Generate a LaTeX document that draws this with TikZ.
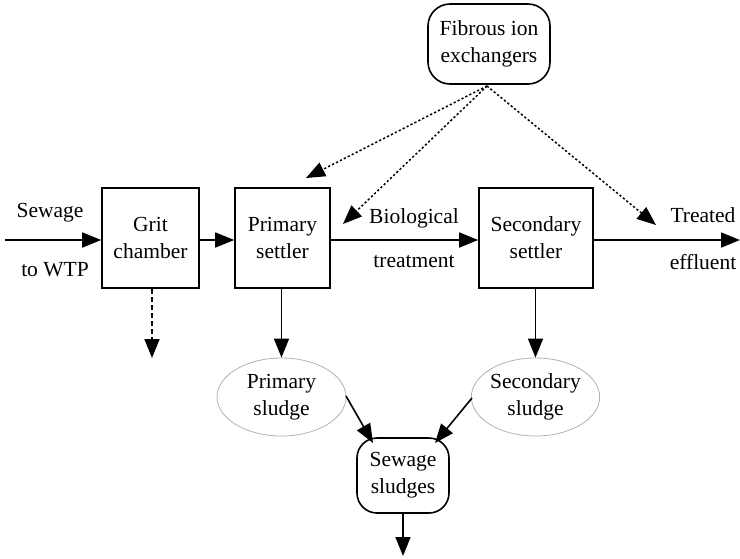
\documentclass[tikz,border=0pt]{standalone}
\usepackage{fontspec}
\setmainfont{Liberation Serif}
\usetikzlibrary{arrows.meta,shapes.geometric}
\begin{document}
\begin{tikzpicture}[x=1pt,y=-1pt,
  txt/.style={font=\fontsize{21.5}{27}\selectfont, align=center, inner sep=0pt},
  box/.style={txt, draw, line width=1.6pt, minimum width=96pt, minimum height=100pt},
  rbox/.style={txt, draw, line width=1.6pt, rounded corners=22pt},
  ell/.style={txt, draw=gray!60, line width=0.8pt, ellipse, minimum width=129pt, minimum height=78pt},
  arr/.style={line width=1.6pt, -{Triangle[length=19pt,width=15pt]}},
  darr/.style={arr, dash pattern=on 5pt off 3pt},
  dotarr/.style={arr, line width=1.5pt, dash pattern=on 2.2pt off 2.2pt}
]
\useasboundingbox (0,0) rectangle (740,558);
\node[rbox, minimum width=122pt, minimum height=80pt] (fib) at (489,44) {Fibrous ion\\exchangers};
\node[box, minimum width=97pt] (grit) at (150.5,238) {Grit\\chamber};
\node[box, minimum width=95pt] (prim) at (282.5,238) {Primary\\settler};
\node[box, minimum width=114pt] (sec) at (536,238) {Secondary\\settler};
\node[ell] (psl) at (281.5,397) {Primary\\sludge};
\node[ell, minimum width=127pt] (ssl) at (535.5,397) {Secondary\\sludge};
\node[rbox, minimum width=92pt, minimum height=75pt, rounded corners=20pt] (sws) at (403,475.5) {Sewage\\sludges};

\coordinate (in) at (5,240);
\coordinate (out) at (740,240);
\coordinate (gritdown) at (152,358);
\coordinate (swsdown) at (403,556);
\coordinate (fo) at (487,86);
\coordinate (d1) at (306,178);
\coordinate (d2) at (343,224);
\coordinate (d3) at (656,225);
\coordinate (p1) at (346,396);
\coordinate (p2) at (373,443);
\coordinate (s1) at (472,398);
\coordinate (s2) at (435,443);

\node[txt] (lsew) at (50,213) {Sewage};
\node[txt] (lwtp) at (55,270) {to WTP};
\node[txt] (lbio) at (414,218) {Biological};
\node[txt] (ltre) at (414,262) {treatment};
\node[txt] (ltrt) at (703,215) {Treated};
\node[txt] (leff) at (703,262) {effluent};

\draw[arr] (in) -- (grit.west |- in);
\draw[arr] (grit.east |- in) -- (prim.west |- in);
\draw[arr] (prim.east |- in) -- (sec.west |- in);
\draw[arr] (sec.east |- in) -- (out);
\draw[darr] (grit.south -| gritdown) -- (gritdown);
\draw[arr] (prim.south -| psl.north) -- (psl.north);
\draw[arr] (sec.south -| ssl.north) -- (ssl.north);
\draw[arr] (p1) -- (p2);
\draw[arr] (s1) -- (s2);
\draw[arr] (sws.south) -- (swsdown);
\draw[dotarr] (fo) -- (d1);
\draw[dotarr] (fo) -- (d2);
\draw[dotarr] (fo) -- (d3);
\end{tikzpicture}
\end{document}
